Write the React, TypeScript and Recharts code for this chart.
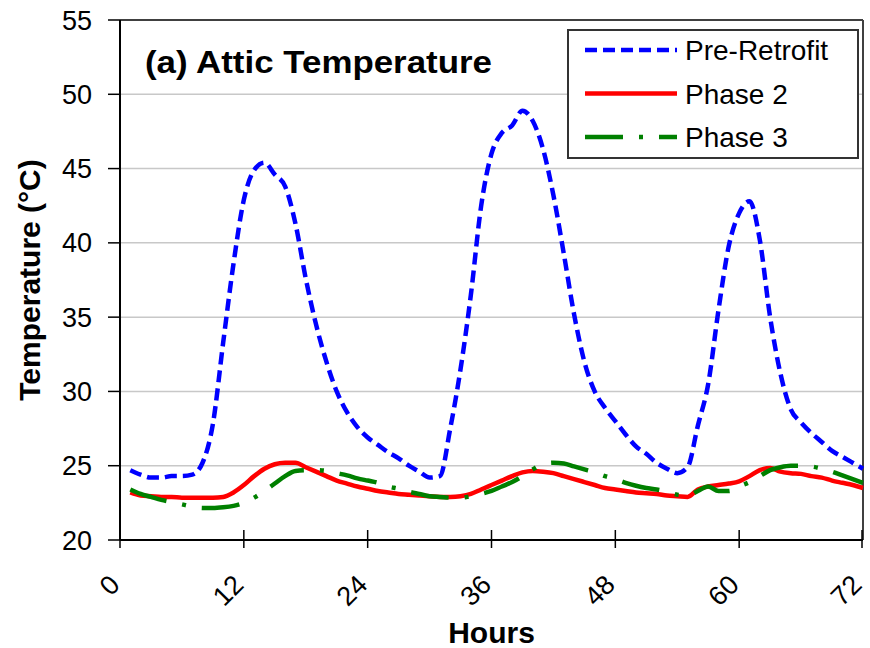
import { LineChart, Line, XAxis, YAxis, CartesianGrid, Legend, ReferenceLine } from 'recharts';

const HOURS = [
  1, 2, 3, 4, 5, 6, 7, 8, 9, 10, 11, 12, 13, 14, 15, 16, 17, 18, 19, 20, 21, 22, 23, 24,
  25, 26, 27, 28, 29, 30, 31, 32, 33, 34, 35, 36, 37, 38, 39, 40, 41, 42, 43, 44, 45, 46, 47, 48,
  49, 50, 51, 52, 53, 54, 55, 56, 57, 58, 59, 60, 61, 62, 63, 64, 65, 66, 67, 68, 69, 70, 71, 72,
];

const PRE_RETROFIT = [
  24.7, 24.4, 24.2, 24.2, 24.3, 24.3, 24.4, 25.2, 27.8, 33.3, 38.6, 42.9,
  44.9, 45.4, 44.6, 43.8, 41.3, 37.6, 34.5, 32.0, 30.0, 28.6, 27.6, 26.9,
  26.4, 25.9, 25.5, 25.0, 24.6, 24.2, 24.3, 27.5, 31.5, 36.5, 42.5, 46.0,
  47.4, 47.9, 48.9, 48.2, 46.3, 43.2, 39.3, 35.2, 32.0, 30.0, 28.9, 28.0,
  27.1, 26.3, 25.8, 25.2, 24.8, 24.5, 24.9, 27.7, 30.5, 35.5, 39.8, 42.0,
  42.8, 40.2, 35.0, 31.2, 28.8, 27.9, 27.2, 26.6, 26.0, 25.6, 25.2, 24.8,
];

const PHASE_2 = [
  23.2, 23.0, 22.95, 22.9, 22.9, 22.85, 22.85, 22.85, 22.85, 22.9, 23.2, 23.7,
  24.3, 24.8, 25.1, 25.2, 25.2, 24.9, 24.6, 24.3, 24.0, 23.8, 23.6, 23.45,
  23.3, 23.2, 23.1, 23.05, 23.0, 22.95, 22.9, 22.9, 22.95, 23.1, 23.4, 23.7,
  24.0, 24.3, 24.55, 24.65, 24.6, 24.5, 24.3, 24.1, 23.9, 23.7, 23.5, 23.4,
  23.3, 23.2, 23.15, 23.1, 23.0, 22.95, 22.9, 23.4, 23.6, 23.7, 23.8, 23.95,
  24.3, 24.7, 24.85, 24.6, 24.5, 24.45, 24.3, 24.2, 24.0, 23.85, 23.7, 23.5,
];

const PHASE_3 = [
  23.4, 23.1, 22.9, 22.7, 22.55, 22.4, 22.25, 22.15, 22.15, 22.2, 22.3, 22.5,
  22.85, 23.3, 23.8, 24.3, 24.65, 24.7, 24.7, 24.65, 24.5, 24.35, 24.15, 24.0,
  23.85, 23.6, 23.45, 23.25, 23.1, 22.95, 22.9, 22.85, 22.85, 22.95, 23.1, 23.3,
  23.6, 23.9, 24.3, 24.75, 25.1, 25.2, 25.15, 24.95, 24.75, 24.55, 24.3, 24.1,
  23.85, 23.65, 23.5, 23.4, 23.25, 23.05, 23.0, 23.3, 23.6, 23.3, 23.3, 23.6,
  23.9, 24.3, 24.7, 24.9, 25.0, 25.0, 24.95, 24.8, 24.6, 24.35, 24.1, 23.85,
];

const X_TICKS = [0, 12, 24, 36, 48, 60, 72];
const Y_TICKS = [20, 25, 30, 35, 40, 45, 50, 55];
const SERIES_ORDER = ['pre', 'p2', 'p3'];

const data = HOURS.map((h, i) => ({
  h,
  pre: PRE_RETROFIT[i],
  p2: PHASE_2[i],
  p3: PHASE_3[i],
}));

const FONT = 'Arial, "Liberation Sans", sans-serif';

const DASHES: Record<string, string | undefined> = {
  pre: '12 6',
  p2: undefined,
  p3: '38 16 4 16',
};

const XTick = (props: any) => {
  const { x, y, payload } = props;
  return (
    <g>
      <line x1={x} x2={x} y1={y - 10} y2={y + 8} stroke="#000" strokeWidth={1.5} />
      <text
        transform={`translate(${x - 5},${y + 40}) rotate(-45)`}
        textAnchor="end"
        dominantBaseline="central"
        fontSize={27}
        fontFamily={FONT}
        fill="#000"
      >
        {payload.value}
      </text>
    </g>
  );
};

const renderLegend = (props: any) => {
  const { payload = [] } = props;
  const items = [...payload].sort(
    (a: any, b: any) => SERIES_ORDER.indexOf(a.dataKey) - SERIES_ORDER.indexOf(b.dataKey),
  );
  return (
    <svg width={292} height={130}>
      <rect x={1} y={1} width={290} height={128} fill="#fff" stroke="#333" strokeWidth={2} />
      {items.map((entry: any, i: number) => {
        const cy = 21 + i * 43.5;
        return (
          <g key={entry.value}>
            <line
              x1={18}
              x2={110}
              y1={cy}
              y2={cy}
              stroke={entry.color}
              strokeWidth={4.5}
              strokeDasharray={DASHES[entry.dataKey]}
            />
            <text x={118} y={cy + 10} fontSize={28} fontFamily={FONT} fill="#000">
              {entry.value}
            </text>
          </g>
        );
      })}
    </svg>
  );
};

const App = () => {
  return (
    <div style={{ position: 'absolute', left: 0, top: 0, width: 870, height: 648, background: '#fff' }}>
      <LineChart width={870} height={648} data={data} margin={{ top: 20, right: 7, bottom: 0, left: 0 }}>
        <CartesianGrid vertical={false} stroke="#c8c8c8" strokeWidth={1.5} />
        <XAxis
          dataKey="h"
          type="number"
          domain={[0, 72]}
          ticks={X_TICKS}
          height={108}
          tickSize={0}
          tickMargin={0}
          tickLine={false}
          tick={<XTick />}
          axisLine={{ stroke: '#000', strokeWidth: 2 }}
          label={{
            value: 'Hours',
            position: 'insideBottom',
            offset: 5,
            style: { fontSize: 30, fontWeight: 'bold', fill: '#000', fontFamily: FONT },
          }}
        />
        <YAxis
          domain={[20, 55]}
          ticks={Y_TICKS}
          width={120}
          tickSize={12}
          tickMargin={16}
          tick={{ fontSize: 27, fill: '#000', fontFamily: FONT }}
          tickLine={{ stroke: '#000', strokeWidth: 1.5 }}
          axisLine={{ stroke: '#000', strokeWidth: 2 }}
          label={{
            value: 'Temperature (°C)',
            angle: -90,
            position: 'insideLeft',
            offset: 29,
            style: { textAnchor: 'middle', fontSize: 30, fontWeight: 'bold', fill: '#000', fontFamily: FONT },
          }}
        />
        <ReferenceLine y={55} stroke="#404040" strokeWidth={2} />
        <ReferenceLine x={72} stroke="#404040" strokeWidth={2} />
        <Legend
          layout="vertical"
          align="center"
          verticalAlign="middle"
          content={renderLegend}
          wrapperStyle={{ left: 567, top: 29, width: 292, height: 130 }}
        />
        <Line
          type="monotone"
          dataKey="pre"
          name="Pre-Retrofit"
          stroke="#0000ff"
          strokeWidth={4.5}
          strokeDasharray={DASHES.pre}
          dot={false}
          isAnimationActive={false}
        />
        <Line
          type="monotone"
          dataKey="p2"
          name="Phase 2"
          stroke="#ff0000"
          strokeWidth={4.5}
          dot={false}
          isAnimationActive={false}
        />
        <Line
          type="monotone"
          dataKey="p3"
          name="Phase 3"
          stroke="#008000"
          strokeWidth={4.5}
          strokeDasharray={DASHES.p3}
          dot={false}
          isAnimationActive={false}
        />
      </LineChart>
      <svg
        width={870}
        height={648}
        style={{ position: 'absolute', left: 0, top: 0, pointerEvents: 'none' }}
      >
        <text x={145} y={73} fontSize={32} fontWeight="bold" fontFamily={FONT} fill="#000" textLength={347} lengthAdjust="spacingAndGlyphs">
          (a) Attic Temperature
        </text>
      </svg>
    </div>
  );
};

export default App;
